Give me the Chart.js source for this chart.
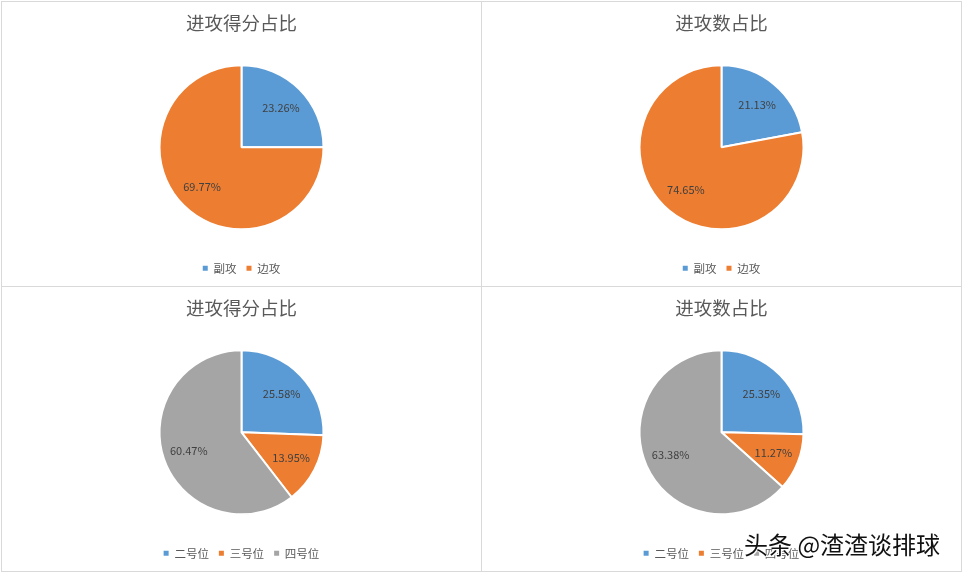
<!DOCTYPE html>
<html>
<head>
<meta charset="utf-8">
<script src="https://cdn.jsdelivr.net/npm/chart.js@4.4.1/dist/chart.umd.min.js"></script>
<style>
  body { margin: 0; background: #fff; width: 962px; height: 574px; position: relative; overflow: hidden; }
  .panel { position: absolute; width: 481px; height: 286px; box-sizing: border-box; border: 1px solid #d9d9d9; }
  .panel canvas { display: block; }
  #mark { position: absolute; left: 744px; top: 526px; font: 24px "Noto Sans CJK SC", sans-serif; color: #111;
    text-shadow: 0 0 2px #fff, 0 0 2px #fff, 1px 1px 0 #fff, -1px -1px 0 #fff; white-space: nowrap; }
</style>
</head>
<body>
<div class="panel" style="left:1px;top:1px"><canvas id="chart_score_pos"></canvas></div>
<div class="panel" style="left:481px;top:1px"><canvas id="chart_attack_pos"></canvas></div>
<div class="panel" style="left:1px;top:286px"><canvas id="chart_score_num"></canvas></div>
<div class="panel" style="left:481px;top:286px"><canvas id="chart_attack_num"></canvas></div>
<div id="mark">头条 @渣渣谈排球</div>
<script>
// datos (porcentajes)
var labelsPos = ['副攻', '边攻'];
var scorePos = [23.26, 69.77];
var attackPos = [21.13, 74.65];

var labelsNum = ['二号位', '三号位', '四号位'];
var scoreNum = [25.58, 13.95, 60.47];
var attackNum = [25.35, 11.27, 63.38];

var colores = ['#5B9BD5', '#ED7D31', '#A5A5A5'];
var fuente = '"Noto Sans CJK SC", "Noto Sans", sans-serif';

// etiquetas de porcentaje dentro de cada sector
const pctPlugin = {
    id: 'pct',
    afterDatasetsDraw(chart) {
        const ctx = chart.ctx;
        const values = chart.data.datasets[0].data;
        const meta = chart.getDatasetMeta(0);
        ctx.save();
        ctx.font = '11px ' + fuente;
        ctx.fillStyle = '#404040';
        ctx.textAlign = 'center';
        ctx.textBaseline = 'middle';
        meta.data.forEach((arc, i) => {
            const p = arc.getProps(['x', 'y', 'startAngle', 'endAngle', 'outerRadius']);
            const mid = (p.startAngle + p.endAngle) / 2;
            const r = p.outerRadius * 0.68;
            ctx.fillText(values[i].toFixed(2) + '%', p.x + Math.cos(mid) * r, p.y + Math.sin(mid) * r);
        });
        ctx.restore();
    }
};

function chartCreate(id, titulo, labels, data) {
    const config = {
        type: 'pie',
        data: {
            labels: labels,
            datasets: [{
                data: data,
                backgroundColor: colores.slice(0, data.length),
                borderColor: '#ffffff',
                borderWidth: 2,
                radius: 82
            }]
        },
        options: {
            responsive: false,
            animation: false,
            layout: { padding: { bottom: 2 } },
            plugins: {
                title: {
                    display: true,
                    text: titulo,
                    color: '#595959',
                    font: { size: 18.5, weight: 'normal', family: fuente },
                    padding: { top: 10, bottom: 8 }
                },
                legend: {
                    position: 'bottom',
                    labels: {
                        boxWidth: 5,
                        boxHeight: 5,
                        padding: 10,
                        color: '#595959',
                        font: { size: 11.5, family: fuente },
                        generateLabels: function(ch) {
                            return ch.data.labels.map((l, i) => ({
                                text: l, fillStyle: colores[i], strokeStyle: colores[i],
                                lineWidth: 0, hidden: false, index: i, fontColor: '#595959'
                            }));
                        }
                    }
                },
                tooltip: { enabled: false }
            }
        },
        plugins: [pctPlugin]
    };
    const canvas = document.getElementById(id);
    canvas.width = 479;
    canvas.height = 284;
    return new Chart(canvas, config);
}

chartCreate('chart_score_pos', '进攻得分占比', labelsPos, scorePos);
chartCreate('chart_attack_pos', '进攻数占比', labelsPos, attackPos);
chartCreate('chart_score_num', '进攻得分占比', labelsNum, scoreNum);
chartCreate('chart_attack_num', '进攻数占比', labelsNum, attackNum);
</script>
</body>
</html>
